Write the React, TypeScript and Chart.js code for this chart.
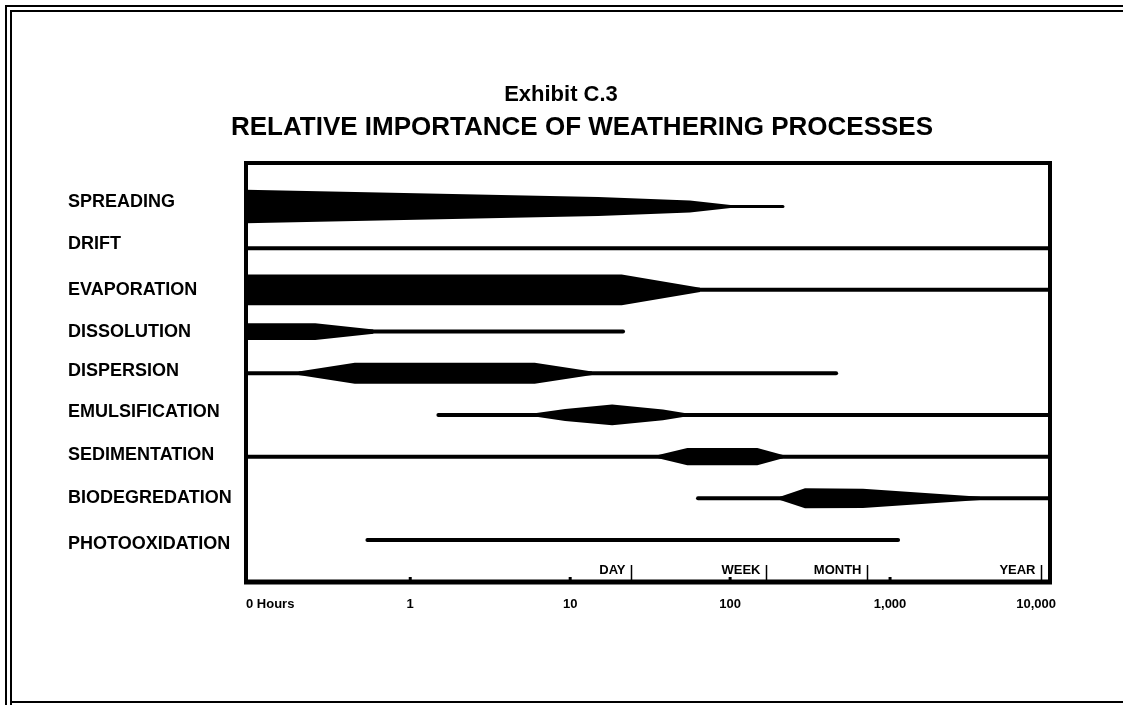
import React, { useEffect, useRef } from "react";
import { Chart, registerables } from "chart.js";
Chart.register(...registerables);

const processes = [
  "SPREADING",
  "DRIFT",
  "EVAPORATION",
  "DISSOLUTION",
  "DISPERSION",
  "EMULSIFICATION",
  "SEDIMENTATION",
  "BIODEGREDATION",
  "PHOTOOXIDATION",
];

// extent of the thin "minor importance" line for every process (hours)
const lineStart = [0.094, 0.094, 0.094, 0.094, 0.094, 1.5, 0.094, 63, 0.54];
const lineEnd = [214, 10000, 10000, 21.4, 460, 10000, 10000, 10000, 1122];

// bands of major importance: hours and half-thickness (in row units)
const spreadingHours = [0.094, 15, 56, 104];
const spreadingWidth = [0.4, 0.23, 0.145, 0.03];
const evaporationHours = [0.094, 21, 65];
const evaporationWidth = [0.37, 0.37, 0.05];
const dissolutionHours = [0.094, 0.255, 0.59];
const dissolutionWidth = [0.2, 0.2, 0.05];
const dispersionHours = [0.2, 0.45, 6.0, 13.7];
const dispersionWidth = [0.04, 0.25, 0.25, 0.04];
const emulsificationHours = [6.0, 9.3, 18.3, 38, 53];
const emulsificationWidth = [0.04, 0.145, 0.25, 0.13, 0.04];
const sedimentationHours = [35.5, 54, 148, 214];
const sedimentationWidth = [0.04, 0.205, 0.205, 0.04];
const biodegradationHours = [205, 294, 677, 3650];
const biodegradationWidth = [0.04, 0.24, 0.23, 0.04];

const bands: [number, number[], number[]][] = [
  [0, spreadingHours, spreadingWidth],
  [2, evaporationHours, evaporationWidth],
  [3, dissolutionHours, dissolutionWidth],
  [4, dispersionHours, dispersionWidth],
  [5, emulsificationHours, emulsificationWidth],
  [6, sedimentationHours, sedimentationWidth],
  [7, biodegradationHours, biodegradationWidth],
];

const xMin = 0.094;
const xMax = 10000;
const tickValues = [1, 10, 100, 1000, 10000];
const tickLabels = ["1", "10", "100", "1,000", "10,000"];
const zeroLabel = "0 Hours";
const milestoneHours = [24, 168, 720, 8760];
const milestoneLabels = ["DAY", "WEEK", "MONTH", "YEAR"];

const title1 = "Exhibit C.3";
const title2 = "RELATIVE IMPORTANCE OF WEATHERING PROCESSES";

const FONT = '"Liberation Sans", Arial, sans-serif';

export default function App() {
  const ref = useRef<HTMLCanvasElement | null>(null);

  useEffect(() => {
    const canvas = ref.current;
    if (!canvas) return;

    const datasets: any[] = [];
    processes.forEach((_, i) => {
      datasets.push({
        data: [
          { x: lineStart[i], y: i },
          { x: lineEnd[i], y: i },
        ],
        borderColor: "#000",
        borderWidth: i === 0 ? 3 : 4,
        borderCapStyle: "round",
        pointRadius: 0,
        fill: false,
        order: 2,
      });
    });
    bands.forEach(([row, hours, widths]) => {
      datasets.push({
        data: hours.map((h, k) => ({ x: h, y: row - widths[k] })),
        borderWidth: 0,
        borderColor: "rgba(0,0,0,0)",
        pointRadius: 0,
        fill: false,
        tension: 0,
        order: 1,
      });
      datasets.push({
        data: hours.map((h, k) => ({ x: h, y: row + widths[k] })),
        borderWidth: 0,
        borderColor: "rgba(0,0,0,0)",
        backgroundColor: "#000",
        pointRadius: 0,
        fill: "-1",
        tension: 0,
        order: 1,
      });
    });

    const decor = {
      id: "decor",
      beforeDraw(chart: any) {
        const ctx = chart.ctx;
        ctx.save();
        ctx.fillStyle = "#fff";
        ctx.fillRect(0, 0, chart.width, chart.height);
        // page double frame
        ctx.strokeStyle = "#000";
        ctx.lineWidth = 2;
        ctx.beginPath();
        ctx.moveTo(6, 705);
        ctx.lineTo(6, 6);
        ctx.lineTo(1123, 6);
        ctx.moveTo(11, 705);
        ctx.lineTo(11, 11);
        ctx.lineTo(1123, 11);
        ctx.moveTo(11, 702);
        ctx.lineTo(1123, 702);
        ctx.stroke();
        // titles
        ctx.fillStyle = "#000";
        ctx.textAlign = "center";
        ctx.textBaseline = "middle";
        ctx.font = `bold 22px ${FONT}`;
        ctx.fillText(title1, 561, 95);
        ctx.font = `bold 26px ${FONT}`;
        ctx.fillText(title2, 582, 128);
        // row labels
        const ys = chart.scales.y;
        const nudge = [-4, -4, 0, 0, -2, -3, -2, 0, 4];
        ctx.textAlign = "left";
        ctx.font = `bold 18px ${FONT}`;
        processes.forEach((p, i) => {
          ctx.fillText(p, 68, ys.getPixelForValue(i) + nudge[i]);
        });
        ctx.restore();
      },
      afterDatasetsDraw(chart: any) {
        const ctx = chart.ctx;
        const a = chart.chartArea;
        const xs = chart.scales.x;
        ctx.save();
        ctx.strokeStyle = "#000";
        ctx.lineWidth = 4;
        ctx.beginPath();
        ctx.moveTo(a.left, a.bottom);
        ctx.lineTo(a.left, a.top);
        ctx.lineTo(a.right, a.top);
        ctx.lineTo(a.right, a.bottom);
        ctx.stroke();
        ctx.lineWidth = 5;
        ctx.beginPath();
        ctx.moveTo(a.left - 2, a.bottom);
        ctx.lineTo(a.right + 2, a.bottom);
        ctx.stroke();
        // decade nubs
        ctx.fillStyle = "#000";
        tickValues.slice(0, 4).forEach((v) => {
          const px = xs.getPixelForValue(v);
          ctx.fillRect(px - 1.5, a.bottom - 5, 3, 3);
        });
        // milestones
        ctx.lineWidth = 1.5;
        ctx.font = `bold 13px ${FONT}`;
        ctx.textAlign = "right";
        ctx.textBaseline = "middle";
        milestoneHours.forEach((h, k) => {
          const px = Math.round(xs.getPixelForValue(h)) + 0.5;
          ctx.beginPath();
          ctx.moveTo(px, a.bottom);
          ctx.lineTo(px, a.bottom - 17);
          ctx.stroke();
          ctx.fillText(milestoneLabels[k], px - 6, a.bottom - 12);
        });
        // tick labels
        const ty = a.bottom + 22;
        ctx.textAlign = "left";
        ctx.fillText(zeroLabel, xs.getPixelForValue(xMin), ty);
        tickValues.forEach((v, k) => {
          const px = xs.getPixelForValue(v);
          if (k === tickValues.length - 1) {
            ctx.textAlign = "right";
            ctx.fillText(tickLabels[k], px + 6, ty);
          } else {
            ctx.textAlign = "center";
            ctx.fillText(tickLabels[k], px, ty);
          }
        });
        ctx.restore();
      },
    };

    const chart = new Chart(canvas, {
      type: "line",
      data: { datasets },
      options: {
        animation: false,
        responsive: false,
        maintainAspectRatio: false,
        layout: { padding: { left: 246, right: 73, top: 163, bottom: 123 } },
        plugins: {
          legend: { display: false },
          tooltip: { enabled: false },
          title: { display: false },
        },
        scales: {
          x: { type: "logarithmic", min: xMin, max: xMax, display: false },
          y: { type: "linear", min: -1.043, max: 9.007, reverse: true, display: false },
        },
        elements: { line: { tension: 0 } },
      },
      plugins: [decor],
    });
    return () => chart.destroy();
  }, []);

  return (
    <div style={{ position: "fixed", left: 0, top: 0, width: 1123, height: 705, background: "#fff" }}>
      <canvas ref={ref} width={1123} height={705} style={{ width: 1123, height: 705, display: "block" }} />
    </div>
  );
}
